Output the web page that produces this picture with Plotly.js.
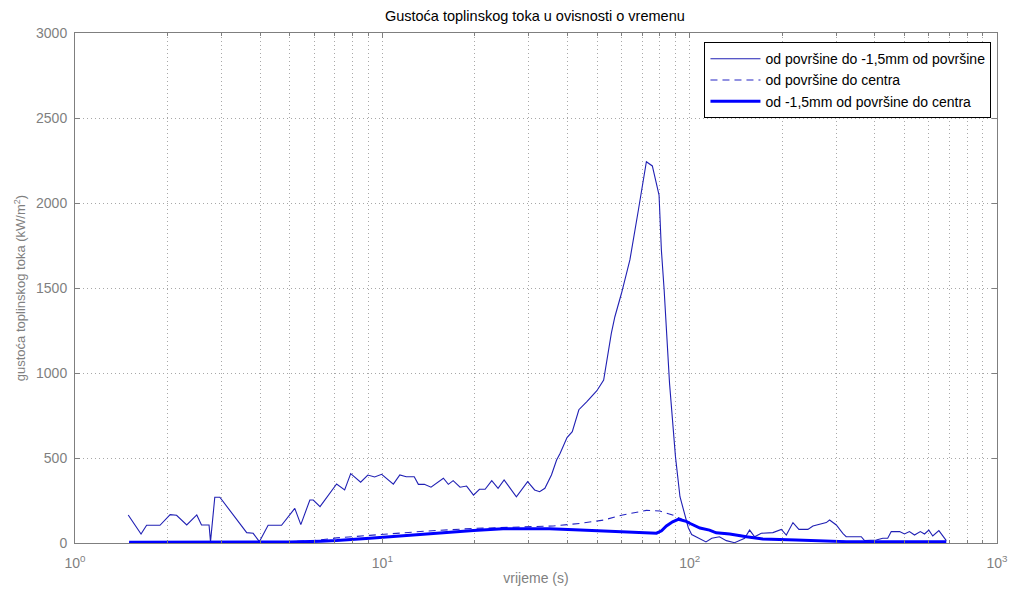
<!DOCTYPE html>
<html>
<head>
<meta charset="utf-8">
<script src="https://cdn.plot.ly/plotly-3.0.1.min.js"></script>
<style>html,body{margin:0;padding:0;background:#fff;}#chart{width:1013px;height:592px;}</style>
</head>
<body>
<div id="chart"></div>
<script>
// Series 1: od površine do -1,5mm od površine (thin solid)
const t1 = [1.49,1.64,1.71,1.89,2.04,2.14,2.31,2.49,2.58,2.73,2.76,2.85,2.96,3.36,3.62,3.80,3.98,4.25,4.70,5.19,5.43,5.81,5.96,6.27,7.10,7.54,7.89,8.5,8.97,9.44,9.95,10.86,11.4,11.96,12.7,13.1,13.7,14.4,15.8,16.4,17.0,17.9,18.8,19.8,20.7,21.6,22.7,23.8,24.9,27.3,29.7,31.3,32.5,33.8,35.5,36.9,37.9,39.9,41.5,43.6,46.3,49.9,52.5,55.6,57.1,60.0,63.9,68.1,72.3,75.6,79.5,80.9,82.6,86.0,89.9,93.0,96.3,99,101.5,107,113,118,125,131.6,140,151,156.7,162.7,171,186.6,198.7,206.3,216.8,226.7,242.5,251.8,278.3,285.3,300,315,323,361.7,370.8,404.7,425,441,452.8,482,500,519,539,563,581,600,618,647,666,684];
const v1 = [165,53,104,104,167,163,106,165,106,106,8,269,269,135,61,57,8,104,104,204,108,253,253,214,347,312,408,358,400,388,404,346,400,390,390,345,345,328,381,345,367,328,335,282,316,316,367,322,371,272,361,312,302,322,400,488,528,620,655,784,831,896,959,1233,1331,1469,1665,1959,2243,2218,2047,1724,1488,939,508,272,175,90,50,30,6,28,37,14,2,28,76,37,57,61,80,47,120,80,80,100,120,135,106,57,37,37,14,18,28,28,67,67,53,67,47,67,53,76,41,73,41,14];

// Series 2: od površine do centra (dashed)
const t2 = [1.5,3,5,6,7.1,9.1,11.7,13.9,19.8,28,36,43.9,52.5,60,66,72.3,80,88,93,97.5,100,108,116,122,135,153,173,222,265,323,684];
const v2 = [3,4,8,14,30,45,61,70,86,96,100,115,135,163,180,192,188,165,145,128,118,90,77,62,54,38,25,18,14,9,7];

// Series 3: od -1,5mm od površine do centra (thick solid)
const t3 = [1.5,3,5,6.3,7.1,9.1,11.4,14.3,19.8,24.7,30.2,35,44,49.9,60,70,78,81,84,88,91.8,97.5,100,108,116,122,135,153,173,222,265,323,684];
const v3 = [5,5,6,10,14,28,41,57,74,84,86,84,76,72,68,63,58,72,100,125,139,127,116,88,76,60,53,37,24,18,14,8,7];

const names = ['od površine do -1,5mm od površine','od površine do centra','od -1,5mm od površine do centra'];

// tick values and labels
const xTickVals = [1,10,100,1000];
const xTickText = ['10<sup>0</sup>','10<sup>1</sup>','10<sup>2</sup>','10<sup>3</sup>'];
const xMinorVals = [2,3,4,5,6,7,8,9,20,30,40,50,60,70,80,90,200,300,400,500,600,700,800,900];
const yTickVals = [0,500,1000,1500,2000,2500,3000];

const traces = [
  {x:t1, y:v1, name:names[0], mode:'lines', line:{color:'#2020b4', width:1.1}},
  {x:t2, y:v2, name:names[1], mode:'lines', line:{color:'#2424c4', width:1.1, dash:'7px,5px'}},
  {x:t3, y:v3, name:names[2], mode:'lines', line:{color:'#0000ff', width:3}}
];

const gray = '#7f7f7f';
const gridc = '#a8a8a8';
const gridd = '1px,3px';
const layout = {
  width:1013, height:592,
  paper_bgcolor:'#ffffff', plot_bgcolor:'#ffffff',
  margin:{l:75, r:16, t:33, b:49},
  font:{family:'"Liberation Sans", Arial, sans-serif', size:12, color:gray},
  title:{text:'Gustoća toplinskog toka u ovisnosti o vremenu', font:{size:14.5, color:'#000000'}, x:0.528, xanchor:'center', y:0.982, yanchor:'top'},
  xaxis:{
    type:'log', range:[0,3], tickmode:'array', tickvals:xTickVals, ticktext:xTickText,
    ticks:'inside', ticklen:5, tickcolor:gray, showline:true, linecolor:gray, mirror:'ticks',
    showgrid:true, gridcolor:gridc, griddash:gridd, gridwidth:1, zeroline:false,
    minor:{tickmode:'array', tickvals:xMinorVals, ticks:'inside', ticklen:3, tickcolor:gray, showgrid:true, gridcolor:gridc, griddash:gridd, gridwidth:1},
    tickfont:{size:14, color:gray}, ticklabelstandoff:7,
    title:{text:'vrijeme (s)', font:{size:14, color:gray}, standoff:3}
  },
  yaxis:{
    range:[0,3000], tickmode:'array', tickvals:yTickVals,
    ticks:'inside', ticklen:5, tickcolor:gray, showline:true, linecolor:gray, mirror:'ticks',
    showgrid:true, gridcolor:gridc, griddash:gridd, gridwidth:1, zeroline:false,
    tickfont:{size:14, color:gray}, ticklabelstandoff:4,
    title:{text:'gustoća toplinskog toka (kW/m<sup>2</sup>)', font:{size:13, color:gray}, standoff:7}
  },
  showlegend:true,
  legend:{x:0.994, y:0.982, xanchor:'right', yanchor:'top', bgcolor:'#ffffff', bordercolor:'#000000', borderwidth:1,
    font:{size:14, color:'#000000'}, tracegroupgap:0, itemwidth:50}
};

Plotly.newPlot('chart', traces, layout, {displayModeBar:false, staticPlot:true});
</script>
</body>
</html>
